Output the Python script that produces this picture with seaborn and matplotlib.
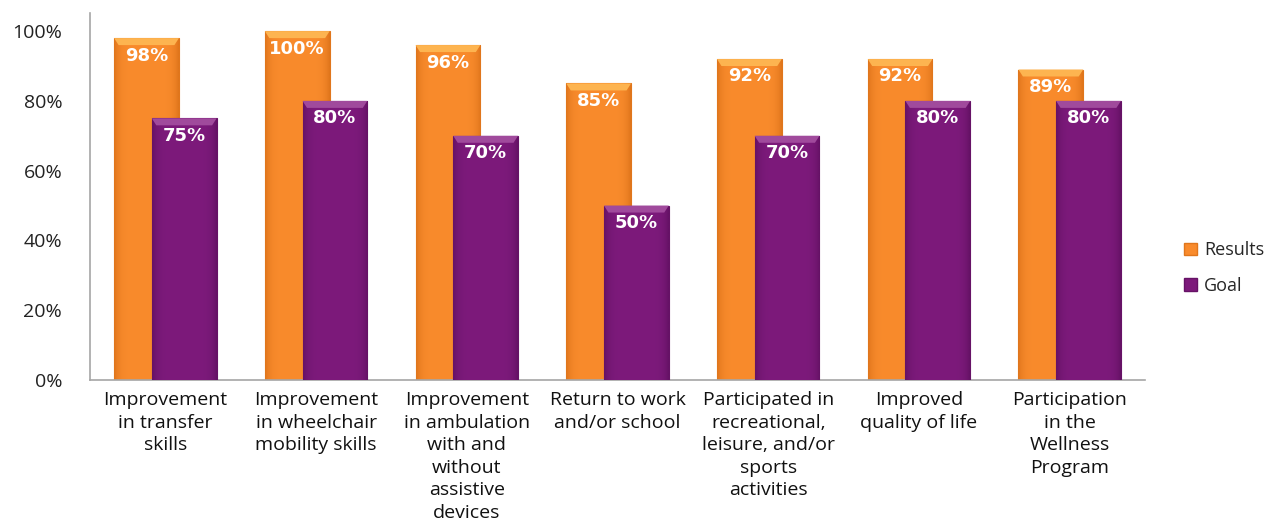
import numpy as np
import pandas as pd
import matplotlib
matplotlib.use("Agg")
import matplotlib.pyplot as plt
from matplotlib.patches import Polygon, Patch
from matplotlib.colors import to_rgb
import seaborn as sns

categories = [
    "Improvement\nin transfer\nskills",
    "Improvement\nin wheelchair\nmobility skills",
    "Improvement\nin ambulation\nwith and\nwithout\nassistive\ndevices",
    "Return to work\nand/or school",
    "Participated in\nrecreational,\nleisure, and/or\nsports\nactivities",
    "Improved\nquality of life",
    "Participation\nin the\nWellness\nProgram",
]
results = [98, 100, 96, 85, 92, 92, 89]
goal = [75, 80, 70, 50, 70, 80, 80]
series = ["Results", "Goal"]
yticks = [0, 20, 40, 60, 80, 100]

colors = {"Results": "#F98B2C", "Goal": "#7D1A7B"}
edge_dark = {"Results": "#E0761C", "Goal": "#661266"}
top_light = {"Results": "#FDB450", "Goal": "#A04A9C"}

df = pd.DataFrame({
    "category": categories * 2,
    "value": [v / 100 for v in results] + [v / 100 for v in goal],
    "series": ["Results"] * len(categories) + ["Goal"] * len(categories),
})

sns.set_theme(style="white")
plt.rcParams["font.family"] = ["Open Sans", "DejaVu Sans"]

fig = plt.figure(figsize=(12.77, 5.27), dpi=100)
ax = fig.add_axes([90 / 1277, 1 - 380 / 527, (1145 - 90) / 1277, (380 - 13) / 527])

sns.barplot(data=df, x="category", y="value", hue="series", hue_order=series,
            palette=colors, dodge=True, width=0.5, ax=ax, legend=False,
            errorbar=None, saturation=1)

bar_w = 0.43
for ci, (cont, name) in enumerate(zip(ax.containers, series)):
    base = to_rgb(colors[name])
    dark = to_rgb(edge_dark[name])
    z = 2 + ci * 1.0
    grad_x = np.linspace(-1, 1, 64)
    prof = np.abs(grad_x) ** 6
    img = np.zeros((1, 64, 3))
    for k in range(3):
        img[0, :, k] = base[k] * (1 - prof) + dark[k] * prof
    for bar in cont:
        cx = bar.get_x() + bar.get_width() / 2
        h = bar.get_height()
        bar.set_width(bar_w)
        bar.set_x(cx - bar_w / 2)
        bar.set_zorder(z)
        bar.set_edgecolor(dark)
        bar.set_linewidth(0.8)
        x0, x1 = cx - bar_w / 2, cx + bar_w / 2
        im = ax.imshow(img, extent=[x0, x1, 0, h], aspect="auto",
                       zorder=z + 0.1, interpolation="bilinear")
        im.set_clip_path(bar)
        bev = 0.02
        dx = 0.03
        poly = Polygon([[x0, h], [x1, h], [x1 - dx, h - bev], [x0 + dx, h - bev]],
                       closed=True, facecolor=top_light[name], edgecolor="none",
                       zorder=z + 0.2)
        ax.add_patch(poly)
        ax.text(cx, h - 0.05, f"{int(round(h * 100))}%", ha="center", va="center",
                color="white", fontweight="bold", fontsize=13,
                family=["DejaVu Sans"], zorder=z + 0.3)

ax.set_xlim(-0.5, len(categories) - 0.5)
ax.set_ylim(0, 1.052)
ax.set_yticks([t / 100 for t in yticks])
ax.set_yticklabels([f"{t}%" for t in yticks], fontsize=14, color="#222222")
ax.tick_params(axis="y", length=0, pad=20)
ax.tick_params(axis="x", length=0, pad=8)
ax.set_xticks(range(len(categories)))
ax.set_xticklabels(categories, fontsize=14, color="#111111", linespacing=1.32)
ax.set_xlabel("")
ax.set_ylabel("")
for s in ["top", "right"]:
    ax.spines[s].set_visible(False)
for s in ["left", "bottom"]:
    ax.spines[s].set_color("#A6A6A6")
    ax.spines[s].set_linewidth(1.2)

handles = [Patch(facecolor=colors[s], edgecolor=edge_dark[s]) for s in series]
fig.legend(handles, series, loc="center left",
           bbox_to_anchor=(1168 / 1277, 1 - 268 / 527), frameon=False,
           fontsize=13, handlelength=0.7, handleheight=0.7, handletextpad=0.4,
           labelspacing=0.95)

fig.savefig("out.png", dpi=100)
